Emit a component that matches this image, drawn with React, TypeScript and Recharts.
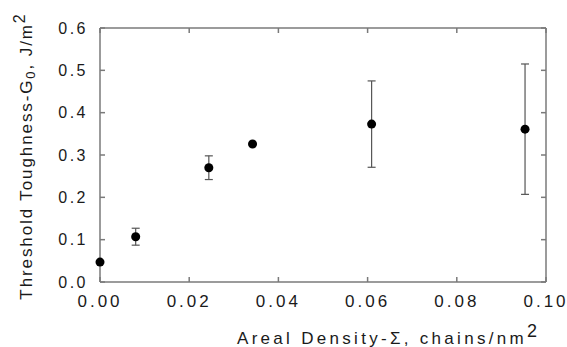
import { ScatterChart, Scatter, XAxis, YAxis, ZAxis, ErrorBar, Label } from 'recharts'

const density = [0, 0.008, 0.0244, 0.0342, 0.0609, 0.0953]
const toughness = [0.047, 0.107, 0.27, 0.326, 0.373, 0.361]
const spread = [0, 0.02, 0.028, 0, 0.102, 0.154]
const xTicks = [0, 0.02, 0.04, 0.06, 0.08, 0.1]
const yTicks = [0, 0.1, 0.2, 0.3, 0.4, 0.5, 0.6]

const points = density.map((d, i) => ({ d, g: toughness[i], err: spread[i] }))

const FONT = '"Liberation Sans", Arial, sans-serif'
const AXIS = '#7a7a7a'
const blank = () => ''
const line = { stroke: AXIS, strokeWidth: 1.5 }

function XTitle(props: any) {
  const vb = props.viewBox
  return (
    <text x={vb.x + 137} y={vb.y + 62} fontFamily={FONT} fontSize={17} letterSpacing={3.3} fill="#1a1a1a">
      Areal Density-Σ, chains/nm
      <tspan dy={-7} fontSize={18}>2</tspan>
    </text>
  )
}

function YTitle(props: any) {
  const vb = props.viewBox
  const cx = vb.x + 26
  const cy = vb.y + 128
  return (
    <text x={cx} y={cy} transform={`rotate(-90 ${cx} ${cy})`} textAnchor="middle" dominantBaseline="central"
      fontFamily={FONT} fontSize={17} letterSpacing={1.9} fill="#1a1a1a">
      Threshold Toughness-G
      <tspan dy={4} fontSize={13}>0</tspan>
      <tspan dy={-4}>, J/m</tspan>
      <tspan dy={-7} fontSize={16}>2</tspan>
    </text>
  )
}

export default function App() {
  return (
    <div style={{ position: 'absolute', left: 0, top: 0, width: 567, height: 347, background: '#fff' }}>
      <ScatterChart width={567} height={347} margin={{ top: 0, right: 0, left: 0, bottom: 0 }}>
        <XAxis type="number" dataKey="d" domain={[0, 0.1]} ticks={xTicks} height={65}
          tickFormatter={(v: number) => v.toFixed(2)} tickSize={-5} tickMargin={18}
          axisLine={line} tickLine={line}
          tick={{ fill: '#1a1a1a', fontSize: 17, fontFamily: FONT, letterSpacing: 3 }}>
          <Label content={XTitle} />
        </XAxis>
        <XAxis xAxisId="top" type="number" dataKey="d" orientation="top" domain={[0, 0.1]} ticks={xTicks} height={28}
          tickFormatter={blank} tickSize={-5} axisLine={line} tickLine={line} />
        <YAxis type="number" dataKey="g" domain={[0, 0.6]} ticks={yTicks} width={100}
          tickFormatter={(v: number) => v.toFixed(1)} tickSize={-5} tickMargin={17}
          axisLine={line} tickLine={line}
          tick={{ fill: '#1a1a1a', fontSize: 16, fontFamily: FONT, letterSpacing: 2.5 }}>
          <Label content={YTitle} />
        </YAxis>
        <YAxis yAxisId="right" type="number" dataKey="g" orientation="right" domain={[0, 0.6]} ticks={yTicks} width={21}
          tickFormatter={blank} tickSize={-5} axisLine={line} tickLine={line} />
        <ZAxis range={[45, 45]} />
        <Scatter data={points} xAxisId="top" yAxisId="right" fill="none" isAnimationActive={false} />
        <Scatter data={points} fill="#000" shape="circle" isAnimationActive={false}>
          <ErrorBar dataKey="err" direction="y" width={4} stroke="#555" strokeWidth={1.2} />
        </Scatter>
      </ScatterChart>
    </div>
  )
}
